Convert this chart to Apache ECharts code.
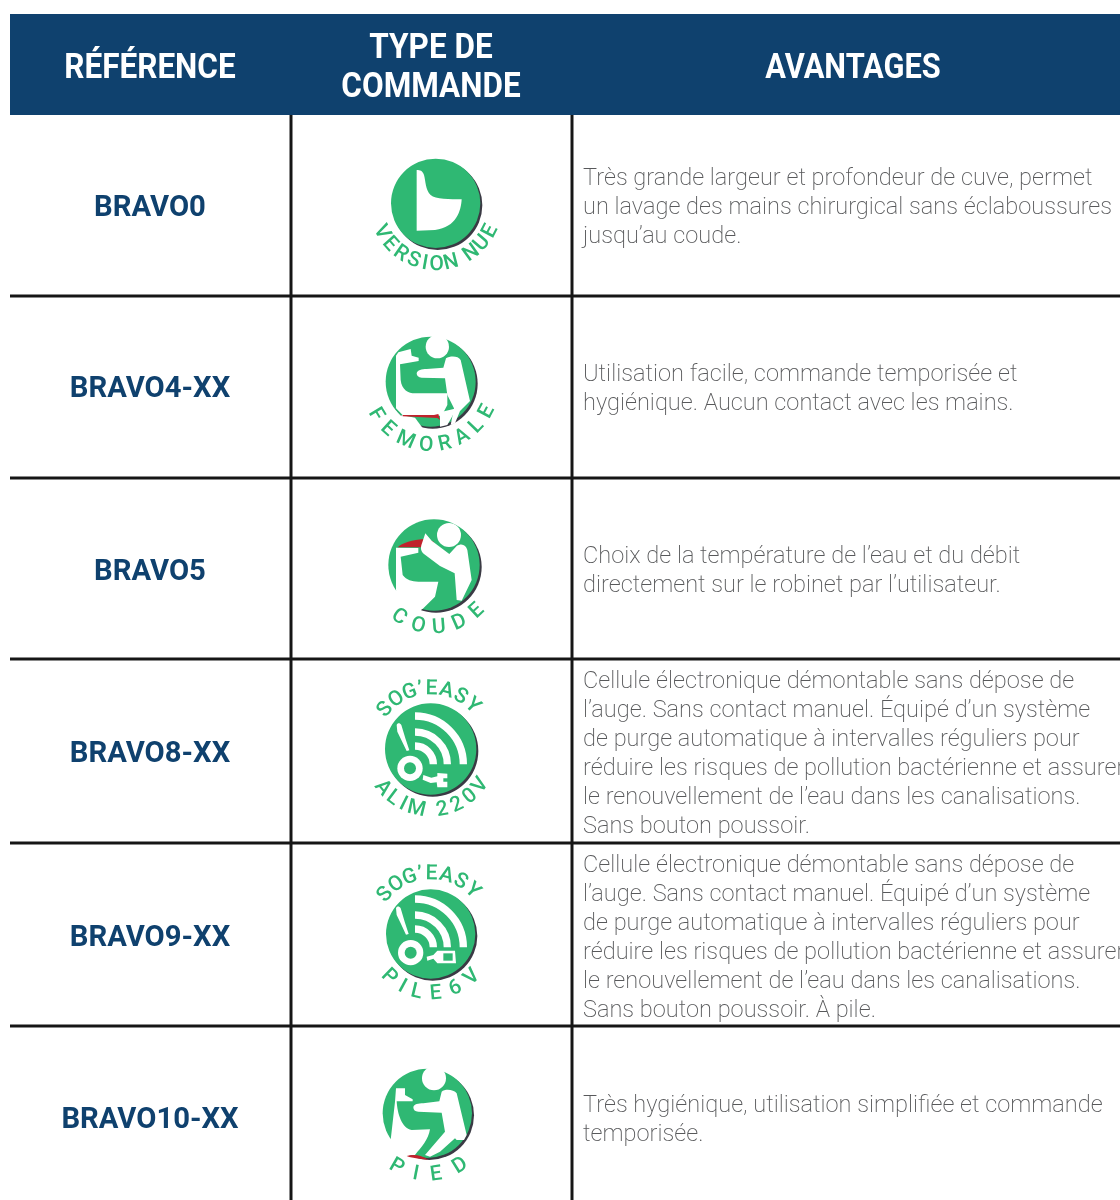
<!DOCTYPE html>
<html><head><meta charset="utf-8">
<style>html,body{margin:0;padding:0;background:#fff}#c{width:1120px;height:1200px}</style>
<script src="https://cdn.jsdelivr.net/npm/echarts@6/dist/echarts.min.js"></script></head>
<body><div id="c"></div>
<script>
const headers = [["RÉFÉRENCE"], ["TYPE DE", "COMMANDE"], ["AVANTAGES"]];
const references = ["BRAVO0", "BRAVO4-XX", "BRAVO5", "BRAVO8-XX", "BRAVO9-XX", "BRAVO10-XX"];
const commandTop = ["", "", "", "SOG’EASY", "SOG’EASY", ""];
const commandBottom = ["VERSION NUE", "FEMORALE", "COUDE", "ALIM 220V", "PILE6V", "PIED"];
const advantages = [
  ["Très grande largeur et profondeur de cuve, permet", "un lavage des mains chirurgical sans éclaboussures", "jusqu’au coude."],
  ["Utilisation facile, commande temporisée et", "hygiénique. Aucun contact avec les mains."],
  ["Choix de la température de l’eau et du débit", "directement sur le robinet par l’utilisateur."],
  ["Cellule électronique démontable sans dépose de", "l’auge. Sans contact manuel. Équipé d’un système", "de purge automatique à intervalles réguliers pour", "réduire les risques de pollution bactérienne et assurer", "le renouvellement de l’eau dans les canalisations.", "Sans bouton poussoir."],
  ["Cellule électronique démontable sans dépose de", "l’auge. Sans contact manuel. Équipé d’un système", "de purge automatique à intervalles réguliers pour", "réduire les risques de pollution bactérienne et assurer", "le renouvellement de l’eau dans les canalisations.", "Sans bouton poussoir. À pile."]
  ,["Très hygiénique, utilisation simplifiée et commande", "temporisée."]
];

// ---- layout and style (separate from the content above)
const NAVY = '#0f416e', GREEN = '#2fb873', RED = '#c0222c', DARK = '#3a3a44', LINE = '#161616', BODY = '#58595b';
const rowEdges = [115, 296, 478, 659, 843, 1026, 1208];
const labelNudge = [0, 0, 1, 1, 1, 1];
const bodyNudge = [0, 0, 1, 1, 1.5, 1];
const headerScale = [0.9, 0.9, 0.88];
const colCenters = [150, 431, 853];
const colLines = [291, 572];
const BOX = 'M0 0L0 0M450 450L450 450';
const glyphWeight = { ' ': 0.55, '’': 0.45, 'I': 0.6, 'M': 1.25, 'L': 0.9 };
const wifi = (cx, cy) => [[145, 22], [97, 22], [55, 22]].map(a => ({ arc: [cx, cy, a[0], a[1]] }));
const iconDefs = [
  { o: [360, 140], c: [227, 190, 134], bot: [152, 27, 61.5], parts: [
    { f: '#fff', d: 'M170 90C180 90 188 92 192 105C197 122 196 150 212 165C226 178 270 178 305 178C303 212 290 262 225 270L170 272Z' }] },
  { o: [360, 325], c: [212, 170, 135], bot: [149, 28, 64], head: [232, 65, 35], parts: [
    { f: '#fff', d: 'M108 92L115 82L152 72L155 92L176 98L176 108L120 118L122 165C125 195 145 205 165 205L262 205L262 240L245 272L130 272L108 250Z' },
    { f: '#fff', d: 'M125 270L165 278L190 312L110 312Z' },
    { f: '#fff', d: 'M170 145C172 135 185 132 200 132L250 128L258 100C270 92 295 92 302 105L330 228L300 258L285 295L272 300L282 250L262 210L255 160L185 158C175 158 170 152 170 145Z' },
    { f: '#fff', d: 'M240 262L290 250L262 300L240 305Z' },
    { f: RED, d: 'M128 270L222 270L235 267L240 285L232 279L128 274Z' }] },
  { o: [360, 510], c: [222, 165, 137], bot: [124, 47, 63], head: [267, 75, 36], parts: [
    { f: '#fff', d: 'M108 113L175 114L175 128L122 140L128 195C140 210 155 215 175 215L235 215L225 260L190 295L140 300L108 240Z' },
    { f: '#fff', d: 'M108 240L190 295L150 325L75 285Z' },
    { f: RED, d: 'M113 112C125 98 160 90 190 87L190 112Z' },
    { f: RED, d: 'M205 88L222 96L222 110L205 110Z' },
    { f: '#fff', d: 'M196 70L215 92L268 132L290 108C305 98 318 105 322 120L335 210L305 272L290 270L284 190L240 168L192 132C183 125 180 115 186 100Z' }] },
  { o: [360, 675], c: [212, 222, 137], top: [-139, -46, 60], bot: [141, 36, 62], wifi: [165, 268], disk: [150, 280, 38, 18],
    parts: [
    { f: '#fff', d: 'M110 150C112 143 120 143 124 150L136 190L148 226L140 228L124 195L112 170Z' },
    { f: '#fff', d: 'M190 300L214 308L232 304L232 294L262 296L262 310L250 310L250 320L262 320L262 337L232 337L230 322L212 324L188 314Z' }] },
  { o: [360, 860], c: [212, 222, 134], top: [-139, -46, 60], bot: [134, 46, 60], wifi: [165, 262], disk: [152, 278, 38, 18],
    parts: [
    { f: '#fff', d: 'M108 145C110 138 118 138 122 145L134 185L146 222L138 224L122 190L110 165Z' },
    { f: '#fff', d: 'M200 290L220 285L232 272L285 272L288 310L232 310L220 296L202 302Z' },
    { f: GREEN, d: 'M250 280L278 280L278 302L250 302Z' }] },
  { o: [360, 1060], c: [202, 160, 134], bot: [120, 58, 62], head: [222, 55, 36], parts: [
    { f: '#fff', d: 'M108 85L135 85L135 105L158 118L158 124L110 124C112 160 125 205 155 210L210 208C205 240 185 260 165 285L100 290L92 240L105 125Z' },
    { f: '#fff', d: 'M160 142C162 132 175 130 190 130L238 124L245 95C255 85 282 88 290 100L320 225L312 240L290 240L285 235L240 275L210 290L195 285L255 215L245 158L175 155C165 155 160 150 160 142Z' },
    { f: RED, d: 'M140 288C160 282 185 284 205 300C185 296 160 296 140 288Z' }] }
];

function arcText(def, label, spec, top) {
  const chars = Array.from(label), out = [];
  const sc = 1 / 3, cx = def.o[0] + def.c[0] * sc, cy = def.o[1] + def.c[1] * sc;
  const w = chars.map(ch => glyphWeight[ch] || 1);
  const centers = []; let run = 0;
  w.forEach(v => { centers.push(run + v / 2); run += v; });
  const first = centers[0], last = centers[centers.length - 1];
  chars.forEach((ch, i) => {
    if (ch === ' ') return;
    const a = spec[0] + (spec[1] - spec[0]) * (centers[i] - first) / (last - first);
    const t = a * Math.PI / 180;
    out.push({ type: 'text', x: cx + spec[2] * Math.cos(t), y: cy + spec[2] * Math.sin(t),
      rotation: (top ? -(a + 90) : 90 - a) * Math.PI / 180,
      style: { text: ch, fill: GREEN, fontFamily: 'Roboto', fontSize: 21, fontWeight: 500, align: 'center', verticalAlign: 'middle' } });
  });
  return out;
}
function iconEls(i) {
  const def = iconDefs[i], s = 1 / 3, ox = def.o[0], oy = def.o[1];
  const P = (x, y) => [ox + x * s, oy + y * s], els = [];
  const circ = (x, y, r, fill) => { const p = P(x, y); els.push({ type: 'circle', shape: { cx: p[0], cy: p[1], r: r * s }, style: { fill } }); };
  circ(def.c[0] + 6, def.c[1] + 6, def.c[2], DARK);
  circ(def.c[0], def.c[1], def.c[2], GREEN);
  if (def.wifi) {
    wifi(def.wifi[0], def.wifi[1]).forEach(w => {
      const p = P(w.arc[0], w.arc[1]);
      els.push({ type: 'arc', shape: { cx: p[0], cy: p[1], r: w.arc[2] * s, startAngle: -Math.PI / 2, endAngle: 0 },
        style: { stroke: '#fff', fill: 'none', lineWidth: w.arc[3] * s, lineCap: 'butt' } });
    });
  }
  if (def.disk) {
    circ(def.disk[0], def.disk[1], def.disk[2], '#fff');
    circ(def.disk[0], def.disk[1], def.disk[3], GREEN);
  }
  def.parts.forEach(pt => els.push({ type: 'path', shape: { pathData: BOX + pt.d, x: ox, y: oy, width: 150, height: 150, layout: 'cover' }, style: { fill: pt.f } }));
  if (def.head) circ(def.head[0], def.head[1], def.head[2], '#fff');
  if (def.top) els.push(...arcText(def, commandTop[i], def.top, true));
  if (def.bot) els.push(...arcText(def, commandBottom[i], def.bot, false));
  return els;
}
function textEl(api, x, y, text, o) {
  const p = api.coord([x, y]);
  return { type: 'text', x: p[0], y: p[1], scaleX: o.sx || 1,
    style: { text, fill: o.fill, fontFamily: 'Roboto', fontSize: o.size, fontWeight: o.weight, align: o.align || 'center', verticalAlign: 'middle' } };
}
function lineEl(api, a, b) {
  const p = api.coord(a), q = api.coord(b);
  return { type: 'line', shape: { x1: p[0], y1: p[1], x2: q[0], y2: q[1] }, style: { stroke: LINE, lineWidth: 3 } };
}
function renderRow(params, api) {
  const i = api.value(0), top = rowEdges[i], bot = rowEdges[i + 1], mid = (top + bot) / 2 + 1, ch = [];
  if (i > 0) ch.push(lineEl(api, [10, top], [1120, top]));
  colLines.forEach(x => ch.push(lineEl(api, [x, top], [x, bot])));
  ch.push(textEl(api, colCenters[0], mid + 1.5 + labelNudge[i], references[i], { fill: NAVY, size: 30, weight: 700, sx: 0.975 }));
  advantages[i].forEach((ln, k) => ch.push(textEl(api, 583, mid + 1 + bodyNudge[i] + (k - (advantages[i].length - 1) / 2) * 29, ln, { fill: BODY, size: 24.5, weight: 200, sx: 0.961, align: 'left' })));
  ch.push(...iconEls(i));
  return { type: 'group', children: ch };
}
function renderHeader(params, api) {
  const p = api.coord([10, 14]), q = api.coord([1120, 115]);
  const ch = [{ type: 'rect', shape: { x: p[0], y: p[1], width: q[0] - p[0], height: q[1] - p[1] }, style: { fill: NAVY } }];
  headers.forEach((lines, c) => lines.forEach((t, k) => ch.push(textEl(api, colCenters[c], 69 + (k - (lines.length - 1) / 2) * 39, t, { fill: '#fff', size: 35, weight: 700, sx: headerScale[c] }))));
  return { type: 'group', children: ch };
}
const chart = echarts.init(document.getElementById('c'), null, { renderer: 'canvas' });
chart.setOption({
  animation: false, backgroundColor: '#fff',
  grid: { left: 0, right: 0, top: 0, bottom: 0 },
  xAxis: { type: 'value', min: 0, max: 1120, show: false },
  yAxis: { type: 'value', min: 0, max: 1200, inverse: true, show: false },
  series: [
    { type: 'custom', silent: true, clip: false, coordinateSystem: 'cartesian2d', renderItem: renderRow, data: references.map((r, i) => [i]), encode: { x: 0, y: 0 } },
    { type: 'custom', silent: true, clip: false, coordinateSystem: 'cartesian2d', renderItem: renderHeader, data: [[0]], encode: { x: 0, y: 0 } }
  ]
});
</script></body></html>
